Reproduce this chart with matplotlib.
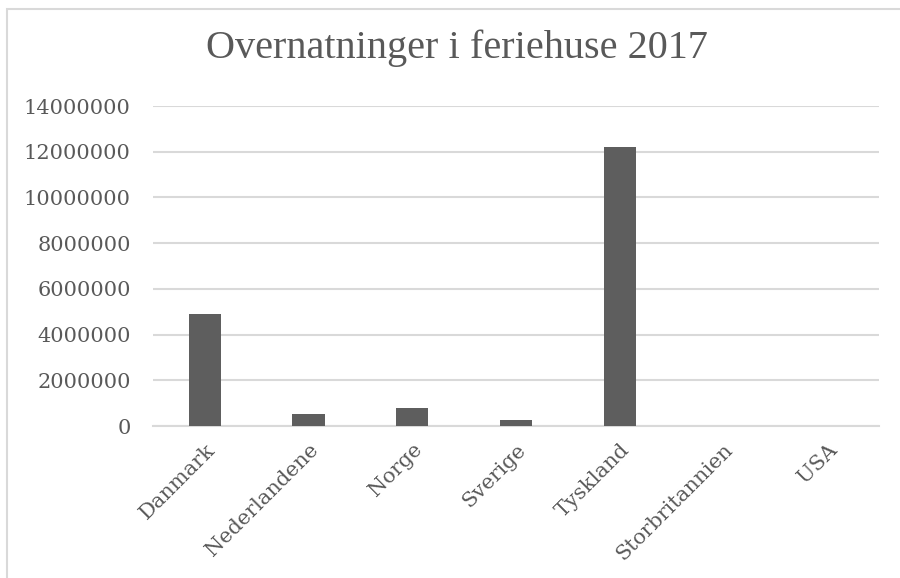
import matplotlib.pyplot as plt
from matplotlib.patches import Rectangle

# data
countries = ["Danmark", "Nederlandene", "Norge", "Sverige", "Tyskland", "Storbritannien", "USA"]
nights = [4900000, 510000, 770000, 250000, 12190000, 0, 0]
yticks = [0, 2000000, 4000000, 6000000, 8000000, 10000000, 12000000, 14000000]

TEXT = "#595959"
GRID = "#d9d9d9"
BAR = "#5e5e5e"
TICKFONT = ["DejaVu Serif"]

plt.rcParams["font.family"] = ["Liberation Serif", "DejaVu Serif"]

fig = plt.figure(figsize=(9, 5.78), dpi=100)
ax = fig.add_axes([153 / 900, 1 - 426 / 578, (879 - 153) / 900, (426 - 106) / 578])

# chart frame like the spreadsheet export
fig.patches.append(Rectangle((7 / 900, -0.1), 1.2, 1 - 9 / 578 + 0.1,
                             transform=fig.transFigure, fill=False,
                             edgecolor=GRID, linewidth=1.5))

x = range(len(countries))
ax.bar(x, nights, width=0.31, color=BAR, zorder=3)

ax.set_xlim(-0.5, len(countries) - 0.5)
ax.set_ylim(0, 14000000)
ax.set_yticks(yticks)
ax.set_yticklabels([str(v) for v in yticks], family=TICKFONT)
ax.set_xticks(list(x))
ax.set_xticklabels(countries, rotation=45, ha="right", rotation_mode="anchor", family=TICKFONT)

ax.grid(axis="y", color=GRID, linewidth=1.5, zorder=0)
for s in ["top", "right", "left"]:
    ax.spines[s].set_visible(False)
ax.spines["bottom"].set_color(GRID)
ax.spines["bottom"].set_linewidth(1.5)
ax.tick_params(axis="both", length=0, colors=TEXT, labelsize=15)
ax.tick_params(axis="y", pad=16)
ax.tick_params(axis="x", pad=10)

fig.text(457 / 900, 1 - 48 / 578, "Overnatninger i feriehuse 2017", ha="center", va="center",
         fontsize=29, color=TEXT)

fig.savefig("out.png", dpi=100)
